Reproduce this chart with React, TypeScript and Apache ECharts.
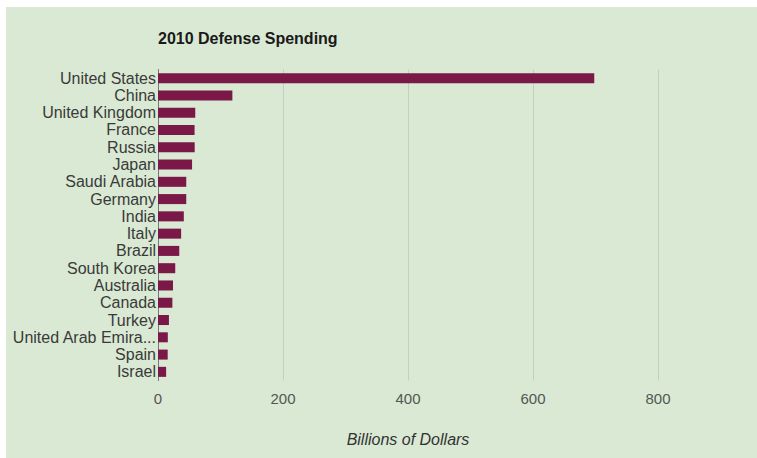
import React, { useEffect, useRef } from "react";
import * as echarts from "echarts";

const countries = [
  "United States", "China", "United Kingdom", "France", "Russia", "Japan",
  "Saudi Arabia", "Germany", "India", "Italy", "Brazil", "South Korea",
  "Australia", "Canada", "Turkey", "United Arab Emirates", "Spain", "Israel",
];
const spending = [
  698, 119, 59.6, 58.5, 58.7, 54.5, 45.2, 45.2, 41.3, 37, 34, 27.6,
  24, 23, 17.5, 15.7, 15.5, 13,
];
const xTicks = [0, 200, 400, 600, 800];

const FONT = "'Liberation Sans', Arial, sans-serif";

export default function App() {
  const ref = useRef<HTMLDivElement>(null);
  useEffect(() => {
    if (!ref.current) return;
    const chart = echarts.init(ref.current, undefined, { renderer: "svg" });
    chart.setOption({
      animation: false,
      backgroundColor: "#d9e9d3",
      title: {
        text: "2010 Defense Spending",
        left: 147,
        top: 18,
        textStyle: { fontFamily: FONT, fontSize: 16, fontWeight: "bold", color: "#1a1a1a" },
      },
      grid: { left: 152, top: 62.5, width: 500, height: 311, containLabel: false },
      xAxis: {
        type: "value",
        min: xTicks[0],
        max: xTicks[xTicks.length - 1],
        interval: 200,
        name: "Billions of Dollars",
        nameLocation: "middle",
        nameGap: 51,
        nameTextStyle: { fontFamily: FONT, fontSize: 16, fontStyle: "italic", color: "#333" },
        axisLine: { show: false },
        axisTick: { show: false },
        axisLabel: { fontFamily: FONT, fontSize: 15, color: "#555", margin: 10 },
        splitLine: { show: true, lineStyle: { color: "#c4cec1", width: 1 } },
      },
      yAxis: {
        type: "category",
        data: countries,
        inverse: true,
        axisLine: { show: true, lineStyle: { color: "#6f7a7a", width: 1 } },
        axisTick: { show: false },
        axisLabel: {
          interval: 0,
          fontFamily: FONT,
          fontSize: 16,
          color: "#3a3a3a",
          margin: 2,
          width: 148,
          overflow: "truncate",
          ellipsis: "...",
        },
      },
      series: [
        {
          type: "bar",
          data: spending,
          barCategoryGap: "42%",
          itemStyle: { color: "#7a1848" },
        },
      ],
    });
    return () => chart.dispose();
  }, []);
  return (
    <div
      ref={ref}
      style={{ position: "fixed", left: 6, top: 7, width: 751, height: 451 }}
    />
  );
}
